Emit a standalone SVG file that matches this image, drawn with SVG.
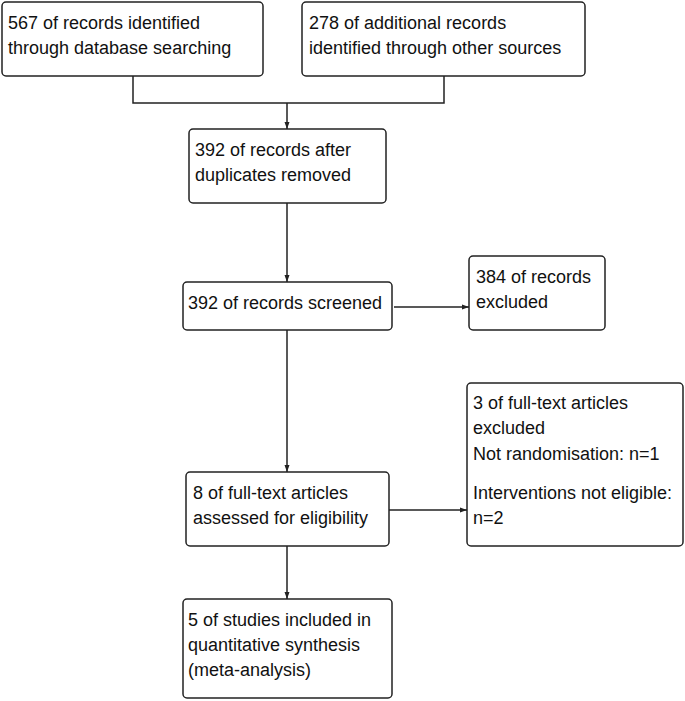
<svg xmlns="http://www.w3.org/2000/svg" width="685" height="701" viewBox="0 0 685 701">
<defs>
<style>
.box{fill:#fff;stroke:#222;stroke-width:1.5}
.t{font-family:"Liberation Sans",Arial,sans-serif;font-size:18px;fill:#111}
.c{fill:none;stroke:#222;stroke-width:1.5}
</style>
<marker id="ah" markerUnits="userSpaceOnUse" markerWidth="7" markerHeight="7" viewBox="0 0 7 7" refX="7" refY="3.5" orient="auto">
<path d="M0,1 L7,3.5 L0,6 Z" fill="#222"/>
</marker>
</defs>
<rect width="685" height="701" fill="#fff"/>
<g id="connectors">
<polyline class="c" points="133,76 133,103 444,103 444,76"/>
<line class="c" x1="287" y1="103" x2="287" y2="129" marker-end="url(#ah)"/>
<line class="c" x1="287" y1="203" x2="287" y2="282" marker-end="url(#ah)"/>
<line class="c" x1="394" y1="307" x2="469" y2="307" marker-end="url(#ah)"/>
<line class="c" x1="287" y1="330" x2="287" y2="472" marker-end="url(#ah)"/>
<line class="c" x1="389" y1="510" x2="467" y2="510" marker-end="url(#ah)"/>
<line class="c" x1="287" y1="546" x2="287" y2="599" marker-end="url(#ah)"/>
</g>
<g id="n1">
<rect class="box" x="2" y="2" width="261" height="74" rx="4"/>
<text class="t" x="8" y="28.5">567 of records identified</text>
<text class="t" x="8" y="53.5">through database searching</text>
</g>
<g id="n2">
<rect class="box" x="302" y="2" width="283" height="74" rx="4"/>
<text class="t" x="309" y="28.5">278 of additional records</text>
<text class="t" x="309" y="53.5">identified through other sources</text>
</g>
<g id="n3">
<rect class="box" x="189" y="129" width="197" height="74" rx="4"/>
<text class="t" x="195" y="155.5">392 of records after</text>
<text class="t" x="195" y="180.5">duplicates removed</text>
</g>
<g id="n4">
<rect class="box" x="183" y="282" width="209" height="48" rx="4"/>
<text class="t" x="188" y="308.5">392 of records screened</text>
</g>
<g id="n5">
<rect class="box" x="469" y="256" width="136" height="74" rx="4"/>
<text class="t" x="476" y="282.5">384 of records</text>
<text class="t" x="476" y="307.5">excluded</text>
</g>
<g id="n6">
<rect class="box" x="186" y="472" width="203" height="74" rx="4"/>
<text class="t" x="193" y="499">8 of full-text articles</text>
<text class="t" x="193" y="524">assessed for eligibility</text>
</g>
<g id="n7">
<rect class="box" x="467" y="383" width="216" height="163" rx="4"/>
<text class="t" x="473" y="408.5">3 of full-text articles</text>
<text class="t" x="473" y="433.5">excluded</text>
<text class="t" x="473" y="459.5">Not randomisation: n=1</text>
<text class="t" x="473" y="498.5">Interventions not eligible:</text>
<text class="t" x="473" y="523.5">n=2</text>
</g>
<g id="n8">
<rect class="box" x="183" y="599" width="209" height="99" rx="4"/>
<text class="t" x="188" y="626">5 of studies included in</text>
<text class="t" x="188" y="651">quantitative synthesis</text>
<text class="t" x="188" y="676">(meta-analysis)</text>
</g>
</svg>
